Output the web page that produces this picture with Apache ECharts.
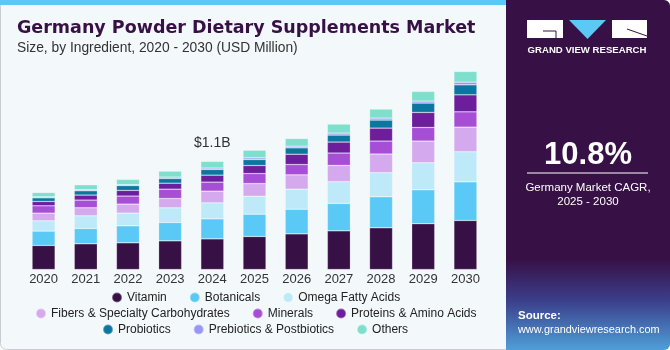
<!DOCTYPE html>
<html>
<head>
<meta charset="utf-8">
<script src="https://cdn.jsdelivr.net/npm/echarts@6/dist/echarts.min.js"></script>
<style>
  html, body { margin: 0; padding: 0; background: #fff; }
  #chart { width: 670px; height: 350px; }
</style>
</head>
<body>
<div id="chart"></div>
<script>
// data (USD million)
var years = ['2020', '2021', '2022', '2023', '2024', '2025', '2026', '2027', '2028', '2029', '2030'];
var vitamin     = [245, 262, 272, 292, 312, 336, 363, 394, 425, 466, 499];
var botanicals  = [146, 156, 173, 187, 204, 227, 251, 279, 316, 346, 394];
var omega       = [105, 129, 129, 149, 163, 183, 204, 221, 245, 275, 306];
var fibers      = [78, 82, 92, 95, 119, 129, 146, 166, 190, 221, 251];
var minerals    = [75, 78, 82, 95, 92, 102, 105, 126, 132, 139, 156];
var proteins    = [44, 51, 58, 61, 71, 82, 105, 112, 132, 153, 173];
var probiotics  = [37, 44, 48, 48, 58, 61, 65, 71, 82, 95, 102];
var prebiotics  = [10, 10, 10, 14, 14, 17, 17, 20, 20, 20, 27];
var others      = [44, 51, 54, 61, 68, 78, 78, 92, 92, 99, 109];

var seriesNames = ['Vitamin', 'Botanicals', 'Omega Fatty Acids', 'Fibers & Specialty Carbohydrates',
  'Minerals', 'Proteins & Amino Acids', 'Probiotics', 'Prebiotics & Postbiotics', 'Others'];
var seriesData = [vitamin, botanicals, omega, fibers, minerals, proteins, probiotics, prebiotics, others];
var colors = ['#371046', '#5bc9f5', '#bde9f9', '#d5a9ee', '#a64fd6', '#6d1f9b', '#0b77a0', '#9797f6', '#7ee0cc'];
var legendRows = [
  ['Vitamin', 'Botanicals', 'Omega Fatty Acids'],
  ['Fibers & Specialty Carbohydrates', 'Minerals', 'Proteins & Amino Acids'],
  ['Probiotics', 'Prebiotics & Postbiotics', 'Others']
];
var labelYear = '2024';
var labelText = '$1.1B';

var font = 'Liberation Sans, Arial, sans-serif';
var legendFontSize = 12;
var legendGap = 22;

var chart = echarts.init(document.getElementById('chart'));

// width of a legend row so it can be centred under the plot
var ctx = document.createElement('canvas').getContext('2d');
ctx.font = legendFontSize + 'px ' + font;
function rowWidth(row) {
  var w = 0;
  row.forEach(function (name, i) {
    w += 10 + 5 + ctx.measureText(name).width;
    if (i > 0) w += legendGap;
  });
  return w;
}

var series = seriesData.map(function (arr, i) {
  var last = i === seriesData.length - 1;
  return {
    name: seriesNames[i],
    type: 'bar',
    stack: 'total',
    barWidth: 23,
    itemStyle: { color: colors[i], borderColor: 'rgba(255,255,255,0.35)', borderWidth: 0.6 },
    emphasis: { disabled: true },
    data: arr.map(function (v, j) {
      if (last && years[j] === labelYear) {
        return {
          value: v,
          label: {
            show: true, position: 'top', distance: 11, formatter: labelText,
            fontFamily: font, fontSize: 14, color: '#333'
          }
        };
      }
      return v;
    })
  };
});

var option = {
  backgroundColor: '#ffffff',
  animation: false,
  color: colors,
  grid: { left: 22.5, width: 464, top: 53.5, height: 216, containLabel: false },
  xAxis: {
    type: 'category',
    data: years,
    axisLine: { show: false },
    axisTick: { show: false },
    axisLabel: { color: '#333', fontSize: 13, fontFamily: font, margin: 3 }
  },
  yAxis: { type: 'value', min: 0, max: 2200, show: false },
  legend: legendRows.map(function (row, k) {
    return {
      data: row,
      left: Math.round(254 - rowWidth(row) / 2), top: 291.5 + k * 16,
      orient: 'horizontal',
      icon: 'circle',
      padding: 0,
      itemWidth: 10, itemHeight: 10, itemGap: legendGap,
      selectedMode: false,
      textStyle: { color: '#222', fontSize: legendFontSize, fontFamily: font }
    };
  }),
  series: series,
  graphic: [
    // card background
    { type: 'rect', z: -10, silent: true,
      shape: { x: 0.5, y: 0.5, width: 669, height: 349, r: 6 },
      style: { fill: '#f3f8fb', stroke: '#c9cdd1', lineWidth: 1 } },
    { type: 'rect', z: -9, silent: true,
      shape: { x: 0, y: 0, width: 510, height: 5 },
      style: { fill: '#5bc8f5' } },
    // right panel
    { type: 'rect', z: -8, silent: true,
      shape: { x: 506, y: 0, width: 164, height: 350, r: [0, 6, 6, 0] },
      style: { fill: new echarts.graphic.LinearGradient(0, 0, 0, 1, [
        { offset: 0, color: '#371046' },
        { offset: 0.74, color: '#371046' },
        { offset: 0.86, color: '#3b3f8c' },
        { offset: 1, color: '#4f9fd8' }
      ]) } },
    // title
    { type: 'text', left: 17, top: 19, silent: true,
      style: { text: 'Germany Powder Dietary Supplements Market', fill: '#371046',
        font: 'bold 17.5px "DejaVu Sans", sans-serif' } },
    { type: 'text', left: 17, top: 41, silent: true,
      style: { text: 'Size, by Ingredient, 2020 - 2030 (USD Million)', fill: '#333',
        font: '13.8px "Liberation Sans", Arial, sans-serif' } },
    // logo
    { type: 'rect', silent: true, shape: { x: 527, y: 20, width: 36, height: 18 }, style: { fill: '#fff' } },
    { type: 'polyline', silent: true, shape: { points: [[543, 31], [556, 31], [556, 38]] },
      style: { stroke: '#371046', lineWidth: 1, fill: null } },
    { type: 'polygon', silent: true, shape: { points: [[569, 20], [606, 20], [587.5, 39]] }, style: { fill: '#5bc8f5' } },
    { type: 'rect', silent: true, shape: { x: 612, y: 20, width: 35, height: 18 }, style: { fill: '#fff' } },
    { type: 'line', silent: true, shape: { x1: 627, y1: 29, x2: 647, y2: 36 },
      style: { stroke: '#371046', lineWidth: 1 } },
    { type: 'text', x: 587, y: 50, silent: true,
      style: { text: 'GRAND VIEW RESEARCH', fill: '#fff', align: 'center', verticalAlign: 'middle',
        font: 'bold 9.6px "Liberation Sans", Arial, sans-serif' } },
    // CAGR
    { type: 'text', x: 588, y: 155, silent: true,
      style: { text: '10.8%', fill: '#fff', align: 'center', verticalAlign: 'middle',
        font: 'bold 31px "Liberation Sans", Arial, sans-serif' } },
    { type: 'line', silent: true, shape: { x1: 527, y1: 173, x2: 648, y2: 173 },
      style: { stroke: '#ffffff', lineWidth: 1 } },
    { type: 'text', x: 588, y: 188, silent: true,
      style: { text: 'Germany Market CAGR,', fill: '#fff', align: 'center', verticalAlign: 'middle',
        font: '11.5px "Liberation Sans", Arial, sans-serif' } },
    { type: 'text', x: 588, y: 202, silent: true,
      style: { text: '2025 - 2030', fill: '#fff', align: 'center', verticalAlign: 'middle',
        font: '11.5px "Liberation Sans", Arial, sans-serif' } },
    // source
    { type: 'text', x: 518, y: 316, silent: true,
      style: { text: 'Source:', fill: '#fff', verticalAlign: 'middle',
        font: 'bold 11.5px "Liberation Sans", Arial, sans-serif' } },
    { type: 'text', x: 518, y: 330, silent: true,
      style: { text: 'www.grandviewresearch.com', fill: '#fff', verticalAlign: 'middle',
        font: '10.9px "Liberation Sans", Arial, sans-serif' } }
  ]
};

chart.setOption(option);
</script>
</body>
</html>
